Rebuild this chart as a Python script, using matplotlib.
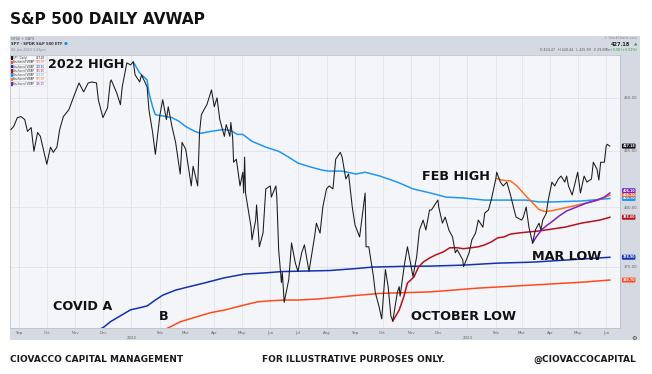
import matplotlib
matplotlib.use("Agg")
import matplotlib.pyplot as plt
import numpy as np
import pandas as pd
from matplotlib.patches import Rectangle

# SPY daily close
price_dates = [
    "2021-08-23", "2021-08-26", "2021-08-30", "2021-09-03", "2021-09-07", "2021-09-10",
    "2021-09-14", "2021-09-17", "2021-09-21", "2021-09-24", "2021-09-28", "2021-10-01",
    "2021-10-05", "2021-10-08", "2021-10-12", "2021-10-15", "2021-10-19", "2021-10-25",
    "2021-10-29", "2021-11-05", "2021-11-10", "2021-11-15", "2021-11-19", "2021-11-24",
    "2021-11-26", "2021-12-01", "2021-12-06", "2021-12-09", "2021-12-10", "2021-12-16",
    "2021-12-20", "2021-12-22", "2021-12-27", "2021-12-31", "2022-01-03", "2022-01-05",
    "2022-01-10", "2022-01-12", "2022-01-18", "2022-01-20", "2022-01-24", "2022-01-27",
    "2022-02-01", "2022-02-04", "2022-02-08", "2022-02-10", "2022-02-14", "2022-02-18",
    "2022-02-23", "2022-02-25", "2022-03-01", "2022-03-07", "2022-03-09", "2022-03-14",
    "2022-03-16", "2022-03-18", "2022-03-22", "2022-03-24", "2022-03-29", "2022-04-01",
    "2022-04-04", "2022-04-07", "2022-04-12", "2022-04-14", "2022-04-18", "2022-04-19",
    "2022-04-21", "2022-04-22", "2022-04-25", "2022-04-29", "2022-05-02", "2022-05-03",
    "2022-05-04", "2022-05-05", "2022-05-11", "2022-05-12", "2022-05-16", "2022-05-17",
    "2022-05-20", "2022-05-24", "2022-05-27", "2022-06-01", "2022-06-02", "2022-06-07",
    "2022-06-08", "2022-06-10", "2022-06-13", "2022-06-14", "2022-06-16", "2022-06-21",
    "2022-06-24", "2022-06-28", "2022-07-01", "2022-07-05", "2022-07-08", "2022-07-13",
    "2022-07-15", "2022-07-19", "2022-07-21", "2022-07-25", "2022-07-28", "2022-08-01",
    "2022-08-04", "2022-08-08", "2022-08-11", "2022-08-16", "2022-08-18", "2022-08-22",
    "2022-08-25", "2022-08-29", "2022-09-01", "2022-09-06", "2022-09-12", "2022-09-13",
    "2022-09-16", "2022-09-21", "2022-09-23", "2022-09-27", "2022-09-30", "2022-10-04",
    "2022-10-07", "2022-10-10", "2022-10-12", "2022-10-17", "2022-10-19", "2022-10-20",
    "2022-10-25", "2022-10-28", "2022-11-03", "2022-11-07", "2022-11-10", "2022-11-14",
    "2022-11-17", "2022-11-21", "2022-11-23", "2022-11-30", "2022-12-01", "2022-12-05",
    "2022-12-08", "2022-12-12", "2022-12-16", "2022-12-19", "2022-12-21", "2022-12-27",
    "2022-12-28", "2023-01-03", "2023-01-06", "2023-01-10", "2023-01-13", "2023-01-18",
    "2023-01-20", "2023-01-24", "2023-01-27", "2023-02-01", "2023-02-02", "2023-02-06",
    "2023-02-09", "2023-02-13", "2023-02-17", "2023-02-21", "2023-02-23", "2023-03-01",
    "2023-03-03", "2023-03-06", "2023-03-09", "2023-03-13", "2023-03-16", "2023-03-20",
    "2023-03-22", "2023-03-24", "2023-03-28", "2023-03-30", "2023-04-03", "2023-04-06",
    "2023-04-10", "2023-04-13", "2023-04-17", "2023-04-19", "2023-04-21", "2023-04-25",
    "2023-05-01", "2023-05-04", "2023-05-08", "2023-05-11", "2023-05-16", "2023-05-18",
    "2023-05-22", "2023-05-24", "2023-05-26", "2023-05-30", "2023-06-01", "2023-06-02",
    "2023-06-05",
]
price_vals = [
    434.9, 436.3, 440.5, 441.0, 439.6, 434.0,
    435.8, 424.8, 433.5, 431.7, 424.3, 418.9,
    426.7, 424.3, 426.7, 434.9, 441.0, 444.3,
    449.1, 457.3, 452.9, 457.3, 457.8, 457.3,
    449.1, 440.5, 445.2, 457.8, 458.8, 452.4,
    446.7, 455.4, 467.3, 466.3, 467.8, 461.3,
    457.8, 461.3, 455.4, 444.3, 433.5, 423.4,
    441.9, 449.1, 439.6, 445.7, 436.3, 428.9,
    414.5, 428.9, 425.7, 409.2, 418.0, 409.2,
    433.5, 441.9, 445.2, 446.7, 453.9, 445.7,
    450.0, 439.6, 431.7, 437.2, 431.7, 438.2,
    431.2, 419.8, 421.2, 409.2, 415.3, 406.1,
    422.1, 406.1, 391.4, 386.1, 394.4, 400.9,
    383.2, 388.9, 407.9, 409.2, 404.3, 409.2,
    404.3, 382.0, 368.7, 372.7, 360.9, 369.9,
    384.8, 376.7, 373.1, 380.7, 384.0, 373.1,
    377.9, 387.3, 393.1, 388.9, 400.0, 407.9,
    409.2, 407.9, 421.2, 424.3, 422.1, 412.3,
    414.5, 400.0, 392.3, 387.3, 406.1, 383.2,
    383.2, 371.1, 364.8, 359.4, 354.5, 373.9,
    367.1, 355.6, 353.7, 364.8, 367.1, 363.3,
    376.7, 383.2, 371.1, 379.1, 390.2, 394.4,
    390.2, 398.7, 398.7, 403.0, 400.0, 393.1,
    395.7, 390.2, 387.3, 380.7, 382.0, 377.9,
    375.1, 380.7, 386.1, 388.9, 394.4, 391.4,
    397.4, 398.7, 403.0, 412.3, 415.3, 410.9,
    409.2, 410.9, 405.2, 398.7, 395.7, 394.4,
    395.7, 400.0, 391.4, 384.8, 390.2, 393.1,
    390.2, 394.4, 397.4, 403.0, 410.9, 409.2,
    412.3, 413.6, 410.9, 413.6, 409.2, 405.2,
    415.3, 406.1, 413.6, 410.9, 412.3, 419.8,
    416.7, 411.8, 419.8, 419.8, 427.2, 428.0,
    427.18,
]

# Anchored VWAP lines
covid_dates = ["2021-11-24", "2021-12-02", "2021-12-09", "2021-12-21", "2021-12-31", "2022-01-10",
               "2022-01-18", "2022-01-27", "2022-02-04", "2022-02-18", "2022-03-03", "2022-03-21",
               "2022-04-11", "2022-05-04", "2022-05-24", "2022-06-14", "2022-07-08", "2022-08-04",
               "2022-09-02", "2022-09-20", "2022-10-25", "2022-11-22", "2022-12-28", "2023-02-03",
               "2023-03-13", "2023-04-20", "2023-06-05"]
covid_vals = [349.9, 351.4, 353.4, 355.9, 358.0, 358.8,
              359.5, 361.8, 363.7, 365.7, 366.9, 368.5,
              370.5, 372.1, 372.5, 373.1, 373.3, 373.5,
              374.3, 374.9, 375.2, 375.3, 375.7, 376.5,
              376.9, 377.8, 378.9]

b_dates = ["2022-02-03", "2022-02-14", "2022-02-23", "2022-03-09", "2022-03-28", "2022-04-12",
           "2022-05-04", "2022-05-18", "2022-06-01", "2022-06-16", "2022-07-01", "2022-07-22",
           "2022-08-04", "2022-09-02", "2022-09-28", "2022-11-22", "2023-01-13", "2023-03-13",
           "2023-05-08", "2023-06-05"]
b_vals = [349.9, 351.8, 353.4, 354.9, 356.9, 357.9,
          359.9, 361.1, 361.5, 361.8, 361.8, 362.2,
          362.6, 363.6, 364.4, 365.0, 366.5, 367.7,
          368.9, 369.7]

oct_dates = ["2022-10-12", "2022-10-19", "2022-10-24", "2022-10-28", "2022-11-04", "2022-11-09",
             "2022-11-14", "2022-11-21", "2022-11-28", "2022-12-06", "2022-12-13", "2022-12-21",
             "2022-12-28", "2023-01-05", "2023-01-13", "2023-01-20", "2023-01-27", "2023-02-03",
             "2023-02-10", "2023-02-17", "2023-02-27", "2023-03-09", "2023-03-20", "2023-04-03",
             "2023-04-17", "2023-05-05", "2023-05-25", "2023-06-05"]
oct_vals = [353.7, 357.9, 363.1, 368.5, 370.9, 374.9,
            376.9, 378.6, 379.9, 381.1, 382.8, 382.8,
            382.4, 382.8, 383.2, 384.0, 385.2, 386.9,
            387.3, 388.5, 389.0, 389.4, 389.8, 390.6,
            391.4, 393.1, 394.4, 395.6]

high22_dates = ["2022-01-03", "2022-01-10", "2022-01-18", "2022-01-20", "2022-01-24", "2022-01-27",
                "2022-02-08", "2022-02-14", "2022-02-22", "2022-03-01", "2022-03-11", "2022-03-17",
                "2022-03-28", "2022-04-11", "2022-04-19", "2022-04-26", "2022-05-02", "2022-05-12",
                "2022-05-27", "2022-06-10", "2022-06-21", "2022-07-01", "2022-07-15", "2022-07-28",
                "2022-08-04", "2022-08-18", "2022-09-02", "2022-09-12", "2022-09-28", "2022-10-17",
                "2022-11-03", "2022-11-22", "2022-12-09", "2022-12-28", "2023-01-20", "2023-02-03",
                "2023-03-06", "2023-03-20", "2023-04-03", "2023-05-05", "2023-06-05"]
high22_vals = [467.8, 462.2, 458.8, 452.4, 445.7, 441.9,
               441.0, 440.5, 438.7, 436.3, 434.0, 433.1,
               434.0, 434.9, 434.4, 432.6, 432.6, 429.4,
               426.7, 424.8, 422.1, 419.4, 417.6, 416.2,
               415.8, 415.8, 414.5, 415.3, 413.6, 410.9,
               407.9, 406.1, 404.3, 403.9, 403.0, 403.0,
               403.0, 402.2, 402.2, 402.6, 403.7]

feb_dates = ["2023-02-02", "2023-02-07", "2023-02-17", "2023-02-24", "2023-03-06", "2023-03-13",
             "2023-03-20", "2023-03-27", "2023-04-03", "2023-04-11", "2023-04-19", "2023-04-28",
             "2023-05-05", "2023-05-12", "2023-05-23", "2023-06-05"]
feb_vals = [412.5, 411.8, 411.4, 409.2, 404.7, 401.8,
            398.9, 398.0, 398.4, 399.1, 399.8, 400.6,
            401.3, 401.8, 403.0, 405.1]

mar_dates = ["2023-03-13", "2023-03-17", "2023-03-23", "2023-03-29", "2023-04-03", "2023-04-11",
             "2023-04-19", "2023-05-01", "2023-05-11", "2023-05-22", "2023-05-30", "2023-06-05"]
mar_vals = [384.8, 387.3, 390.4, 392.3, 393.7, 396.2,
            398.3, 400.2, 401.8, 403.0, 404.3, 406.1]

month_labels = ["Sep", "Oct", "Nov", "Dec", "2022", "Feb", "Mar", "Apr", "May", "Jun", "Jul", "Aug",
                "Sep", "Oct", "Nov", "Dec", "2023", "Feb", "Mar", "Apr", "May", "Jun"]
price_ticks = [375, 400, 425, 450]

W, H = 652, 374
fig = plt.figure(figsize=(W / 100, H / 100), dpi=100)
fig.patch.set_facecolor("white")


def fx(px):
    return px / W


def fy(py):
    return 1 - py / H


# grey chart frame (header, right scale, date strip)
fig.patches.append(Rectangle((fx(10), fy(340)), fx(630), 304 / H, transform=fig.transFigure,
                             fc="#d5d9e2", ec="none", zorder=-5))

ax = fig.add_axes([fx(10), fy(328), fx(610), 273 / H])
ax.set_zorder(1)
ax.set_facecolor("#f4f5f9")
ax.set_yscale("log")
ax.set_ylim(351.05, 471.3)
ax.set_xlim(pd.Timestamp("2021-08-22"), pd.Timestamp("2023-06-16"))

months = pd.date_range("2021-09-01", "2023-06-01", freq="MS")
ax.set_xticks(months)
ax.set_xticklabels([])
ax.set_yticks(price_ticks)
ax.yaxis.set_minor_locator(matplotlib.ticker.NullLocator())
ax.set_yticklabels([f"{v:.2f}" for v in price_ticks])
ax.yaxis.tick_right()
ax.tick_params(length=0, labelsize=2.8, labelcolor="#666666", pad=3)
ax.grid(True, color="#dfe2e8", lw=0.6)
for s in ax.spines.values():
    s.set_color("#b8bcc6")
    s.set_linewidth(0.5)

series = [
    (b_dates, b_vals, "#ff4a1c"),
    (covid_dates, covid_vals, "#1232b0"),
    (oct_dates, oct_vals, "#b5121b"),
    (high22_dates, high22_vals, "#2196f3"),
    (feb_dates, feb_vals, "#ff6d1f"),
    (mar_dates, mar_vals, "#7b22c4"),
]
for d, v, c in series:
    ax.plot(pd.to_datetime(d), v, color=c, lw=1.1, zorder=3)
ax.plot(pd.to_datetime(price_dates), price_vals, color="#1a1a1a", lw=0.75, zorder=4)

# value tags on the price scale, pushed apart so they stack like the original
ytr = ax.get_yaxis_transform()
tags = [(price_vals[-1], "#111111")] + [(v[-1], c) for _, v, c in series]
tags.sort(key=lambda t: t[0])
gap = np.exp(3.9 / 927)
pos = []
for val, c in tags:
    p = val if not pos else max(val, pos[-1] * gap)
    pos.append(p)
for (val, c), p in zip(tags, pos):
    ax.text(1.004, p, f"{val:.2f}", transform=ytr, fontsize=2.3, color="white",
            fontweight="bold", va="center", ha="left", clip_on=False, zorder=6,
            bbox=dict(boxstyle="round,pad=0.15,rounding_size=0.3", fc=c, ec="none"))

# date strip labels
xtr = ax.get_xaxis_transform()
for m, lab in zip(months, month_labels):
    yy = -0.036 if lab.isdigit() else -0.018
    ax.text(m, yy, lab, transform=xtr, fontsize=2.8, color="#666666", ha="center", va="center")

# legend box
legend_rows = [("SPY (Daily)", price_vals[-1], "#111111")] + \
              [("Anchored VWAP", v[-1], c) for _, v, c in series]
for i, (name, val, c) in enumerate(legend_rows):
    yy = 58 + i * 4.3
    fig.patches.append(Rectangle((fx(11), fy(yy + 1.8)), 34.5 / W, 3.6 / H, transform=fig.transFigure,
                                 fc="white", ec="#c8ccd4", lw=0.3, zorder=5))
    fig.patches.append(Rectangle((fx(11), fy(yy + 1.8)), 1.5 / W, 3.6 / H, transform=fig.transFigure,
                                 fc=c, ec="none", zorder=6))
    fig.text(fx(13.3), fy(yy), name, fontsize=1.9, color="#333333", va="center", ha="left", zorder=7)
    fig.text(fx(45), fy(yy), f"{val:.2f}", fontsize=1.9, color=c, va="center", ha="right", zorder=7)

# header text
fig.text(fx(11), fy(38.5), "NYSE + BATS", fontsize=2.5, color="#666666", va="center")
fig.text(fx(11), fy(44), "SPY - SPDR S&P 500 ETF", fontsize=2.7, fontweight="bold",
         color="#333333", va="center")
fig.text(fx(64), fy(44), "\u25CF", fontsize=3.2, color="#1e88e5", va="center")
fig.text(fx(11), fy(50), "06-Jun-2023 1:23pm", fontsize=2.4, color="#888888", va="center")
fig.text(fx(637), fy(38), "\u00A9 StockCharts.com", fontsize=2.4, color="#888888",
         va="center", ha="right")
fig.text(fx(630), fy(44), "427.18", fontsize=3.6, fontweight="bold", color="#222222",
         va="center", ha="right")
fig.text(fx(637), fy(44), "\u25B2", fontsize=3.2, color="#2e9e3e", va="center", ha="right")
fig.text(fx(610), fy(50), "O 424.47   H 428.44   L 425.99   V 29.0Mln", fontsize=2.3,
         color="#555555", va="center", ha="right")
fig.text(fx(637), fy(50), "+0.08 (+0.02%)", fontsize=2.3, color="#2e9e3e", va="center", ha="right")
fig.text(fx(634), fy(338), "\u2699", fontsize=4.5, color="#333333", va="center", ha="center")

# annotations
lab_kw = dict(fontsize=9.2, fontweight="bold", color="#111111", va="baseline", ha="left", zorder=10)
fig.text(fx(48), fy(68), "2022 HIGH", **lab_kw)
fig.text(fx(422), fy(180), "FEB HIGH", **lab_kw)
fig.text(fx(532), fy(259.5), "MAR LOW", **lab_kw)
fig.text(fx(411), fy(320), "OCTOBER LOW", **lab_kw)
fig.text(fx(53), fy(310), "COVID A", **lab_kw)
fig.text(fx(159), fy(320), "B", **lab_kw)

# title and footer
fig.text(fx(10), fy(24), "S&P 500 DAILY AVWAP", fontsize=11.1, fontweight="bold",
         color="#111111", va="baseline", ha="left")
foot_kw = dict(fontsize=6.5, fontweight="bold", color="#1a1a1a", va="baseline")
fig.text(fx(10), fy(362), "CIOVACCO CAPITAL MANAGEMENT", ha="left", **foot_kw)
fig.text(fx(262), fy(362), "FOR ILLUSTRATIVE PURPOSES ONLY.", ha="left", **foot_kw)
fig.text(fx(636), fy(362), "@CIOVACCOCAPITAL", ha="right", **foot_kw)

fig.savefig("out.png", dpi=100, facecolor="white")
